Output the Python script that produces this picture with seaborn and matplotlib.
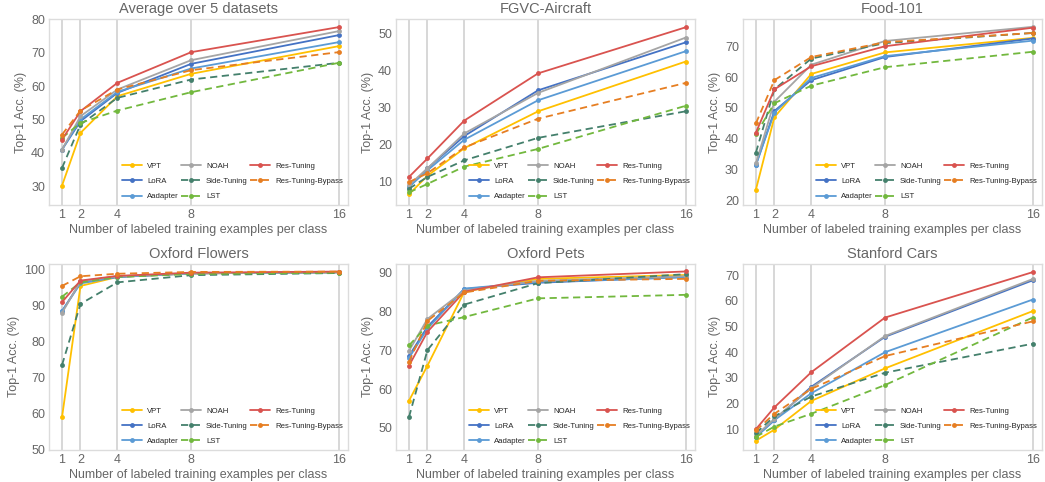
import numpy as np
import pandas as pd
import matplotlib
matplotlib.use("Agg")
import matplotlib.pyplot as plt
import seaborn as sns

shots = [1, 2, 4, 8, 16]
methods = ["VPT", "LoRA", "Aadapter", "NOAH", "Side-Tuning", "LST", "Res-Tuning", "Res-Tuning-Bypass"]
titles = ["Average over 5 datasets", "FGVC-Aircraft", "Food-101", "Oxford Flowers", "Oxford Pets", "Stanford Cars"]

avg_vals = {
    "VPT": [30.2, 46.0, 57.0, 63.7, 72.0],
    "LoRA": [41.0, 49.5, 58.0, 66.7, 75.3],
    "Aadapter": [41.0, 50.0, 58.3, 65.3, 73.2],
    "NOAH": [41.0, 51.0, 59.0, 67.8, 76.5],
    "Side-Tuning": [35.5, 48.5, 56.5, 62.0, 67.0],
    "LST": [44.5, 49.0, 52.7, 58.2, 67.0],
    "Res-Tuning": [44.0, 52.5, 61.0, 70.2, 77.7],
    "Res-Tuning-Bypass": [45.5, 52.7, 59.0, 64.8, 70.2],
}
fgvc_vals = {
    "VPT": [6.5, 11.5, 19.0, 29.0, 42.5],
    "LoRA": [8.5, 13.5, 22.3, 34.7, 47.7],
    "Aadapter": [8.5, 13.0, 21.3, 32.0, 45.3],
    "NOAH": [9.0, 13.5, 23.0, 34.0, 49.0],
    "Side-Tuning": [8.0, 11.2, 15.7, 21.8, 29.0],
    "LST": [7.0, 9.3, 14.0, 18.8, 30.5],
    "Res-Tuning": [11.2, 16.2, 26.5, 39.3, 51.8],
    "Res-Tuning-Bypass": [9.8, 12.2, 19.2, 27.0, 36.7],
}
food_vals = {
    "VPT": [23.5, 47.0, 61.0, 68.0, 72.7],
    "LoRA": [31.5, 49.0, 59.0, 66.5, 72.5],
    "Aadapter": [31.5, 48.5, 59.7, 66.8, 71.8],
    "NOAH": [32.0, 52.0, 64.0, 71.7, 76.3],
    "Side-Tuning": [35.5, 56.0, 66.0, 71.0, 74.3],
    "LST": [41.5, 51.5, 57.2, 63.2, 68.2],
    "Res-Tuning": [42.0, 56.0, 63.5, 70.0, 76.0],
    "Res-Tuning-Bypass": [45.0, 59.0, 66.5, 71.3, 74.3],
}
flowers_vals = {
    "VPT": [59.0, 95.5, 98.0, 99.0, 99.3],
    "LoRA": [88.5, 96.5, 98.0, 99.0, 99.3],
    "Aadapter": [88.5, 96.2, 98.0, 99.0, 99.3],
    "NOAH": [88.0, 96.8, 98.2, 99.0, 99.3],
    "Side-Tuning": [73.5, 90.5, 96.5, 98.5, 99.1],
    "LST": [92.5, 96.5, 98.0, 98.8, 99.2],
    "Res-Tuning": [91.0, 97.0, 98.3, 99.2, 99.5],
    "Res-Tuning-Bypass": [95.5, 98.2, 98.9, 99.4, 99.5],
}
pets_vals = {
    "VPT": [57.0, 66.0, 85.0, 88.3, 89.3],
    "LoRA": [68.5, 76.0, 85.7, 87.3, 88.8],
    "Aadapter": [68.0, 75.5, 85.8, 87.5, 88.7],
    "NOAH": [69.8, 78.0, 85.3, 87.8, 89.0],
    "Side-Tuning": [52.8, 70.0, 81.7, 87.2, 89.5],
    "LST": [71.2, 76.3, 78.5, 83.3, 84.2],
    "Res-Tuning": [66.0, 74.7, 85.0, 88.7, 90.2],
    "Res-Tuning-Bypass": [67.0, 77.5, 84.8, 87.8, 88.3],
}
cars_vals = {
    "VPT": [5.5, 9.8, 21.0, 33.7, 56.0],
    "LoRA": [7.0, 13.5, 26.5, 46.0, 68.0],
    "Aadapter": [7.0, 13.5, 24.0, 40.0, 60.5],
    "NOAH": [7.5, 14.0, 26.0, 46.3, 68.5],
    "Side-Tuning": [8.5, 15.0, 22.7, 32.0, 43.3],
    "LST": [7.0, 11.0, 16.0, 27.2, 53.5],
    "Res-Tuning": [10.0, 18.5, 32.2, 53.5, 71.2],
    "Res-Tuning-Bypass": [9.5, 16.0, 25.7, 38.5, 52.0],
}
all_vals = [avg_vals, fgvc_vals, food_vals, flowers_vals, pets_vals, cars_vals]
ylims = [(24.3, 80.2), (3.5, 54.1), (18.4, 78.9), (49.8, 101.7), (44.3, 92.2), (1.8, 74.5)]
yticks = [range(30, 81, 10), range(10, 51, 10), range(20, 71, 10),
          range(50, 101, 10), range(50, 91, 10), range(10, 71, 10)]

palette = {
    "VPT": "#FFC000",
    "LoRA": "#4472C4",
    "Aadapter": "#5B9BD5",
    "NOAH": "#A5A5A5",
    "Side-Tuning": "#44806C",
    "LST": "#72B83E",
    "Res-Tuning": "#D9534F",
    "Res-Tuning-Bypass": "#E67E22",
}
dashes = {m: "" for m in methods}
for m in ["Side-Tuning", "LST", "Res-Tuning-Bypass"]:
    dashes[m] = (4, 2.5)
markers = {m: "o" for m in methods}

sns.set_theme(style="white")
plt.rcParams["font.family"] = ["Liberation Sans", "DejaVu Sans"]
text_c = "#666666"

fig, axes = plt.subplots(2, 3, figsize=(10.45, 4.82), dpi=100)
fig.subplots_adjust(left=0.047, right=0.997, top=0.961, bottom=0.066, wspace=0.161, hspace=0.313)

for ax, title, vals, yl, yt in zip(axes.flat, titles, all_vals, ylims, yticks):
    rows = []
    for m in methods:
        for s, v in zip(shots, vals[m]):
            rows.append({"shots": s, "acc": v, "method": m})
    df = pd.DataFrame(rows)
    for x in shots:
        ax.axvline(x, color="#d4d4d4", lw=1.3, zorder=0)
    sns.lineplot(data=df, x="shots", y="acc", hue="method", style="method",
                 hue_order=methods, style_order=methods, palette=palette,
                 dashes=dashes, markers=markers, markersize=3.5, markeredgewidth=0,
                 linewidth=1.3, ax=ax)
    ax.set_xlim(0.3, 16.5)
    ax.set_ylim(*yl)
    ax.set_xticks(shots)
    ax.set_xticklabels([str(s) for s in shots])
    ax.set_yticks(list(yt))
    ax.tick_params(axis="both", labelsize=9, colors=text_c, length=0, pad=3)
    ax.set_title(title, fontsize=10.5, color=text_c, pad=4)
    ax.set_xlabel("Number of labeled training examples per class", fontsize=9, color=text_c, labelpad=2)
    ax.set_ylabel("Top-1 Acc. (%)", fontsize=9, color=text_c, labelpad=3)
    for sp in ax.spines.values():
        sp.set_color("#dcdcdc")
        sp.set_linewidth(1.0)
    ax.legend(ncol=3, loc="lower right", fontsize=5.6, frameon=False,
              handlelength=2.6, columnspacing=0.3, handletextpad=0.6,
              labelspacing=1.0, borderaxespad=0.25)

fig.savefig("out.png", dpi=100)
